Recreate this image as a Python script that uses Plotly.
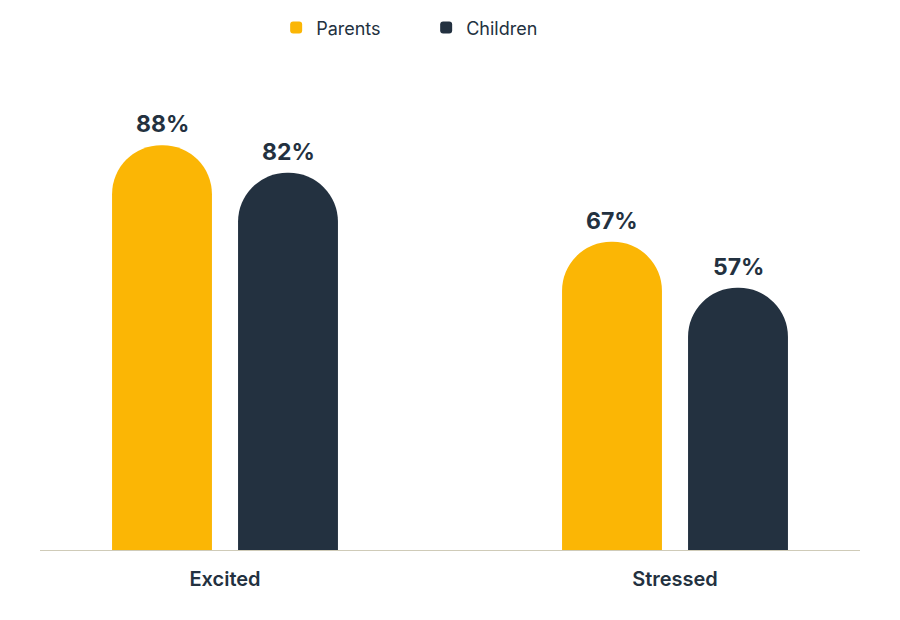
import plotly.graph_objects as go

# data
categories = ["Excited", "Stressed"]
parents = [88, 67]
children = [82, 57]

YELLOW = "#FBB605"
NAVY = "#233140"
FONT = "Inter, Lato, sans-serif"

BAR_W = 0.222
series = [
    ("Parents", parents, YELLOW, -0.251),
    ("Children", children, NAVY, 0.029),
]

fig = go.Figure()
for name, vals, color, off in series:
    fig.add_trace(go.Bar(
        x=list(range(len(categories))), y=vals, name=name,
        marker=dict(color=color, cornerradius="50%", line_width=0),
        width=BAR_W, offset=off,
        hoverinfo="y",
    ))
    # value labels above each bar
    for i, v in enumerate(vals):
        fig.add_annotation(
            x=i + off + BAR_W / 2, y=v, text=f"<b>{v}%</b>",
            showarrow=False, yanchor="bottom", yshift=5,
            font=dict(size=23, color=NAVY, family=FONT),
        )

# page body has an 8px margin, so shift margins to compensate
fig.update_layout(
    width=900, height=620,
    margin=dict(l=32, r=48, t=82, b=78, autoexpand=False),
    paper_bgcolor="white", plot_bgcolor="white",
    font=dict(family=FONT, color=NAVY),
    barmode="overlay",
    showlegend=True,
    legend=dict(
        orientation="h", x=0.288, xanchor="left", y=1.135, yanchor="middle",
        font=dict(size=18, color=NAVY),
        entrywidth=105, entrywidthmode="pixels",
    ),
)

fig.update_xaxes(
    range=[-0.4111, 1.4111],
    tickmode="array", tickvals=list(range(len(categories))), ticktext=categories,
    showline=True, linecolor="#CFCBB8", linewidth=1,
    showgrid=False, ticks="", ticklabelstandoff=11,
    tickfont=dict(size=20, color=NAVY, family="Inter SemiBold, Inter, sans-serif"),
)
fig.update_yaxes(range=[0, 100], visible=False, showgrid=False)

fig.write_html("out.html")
